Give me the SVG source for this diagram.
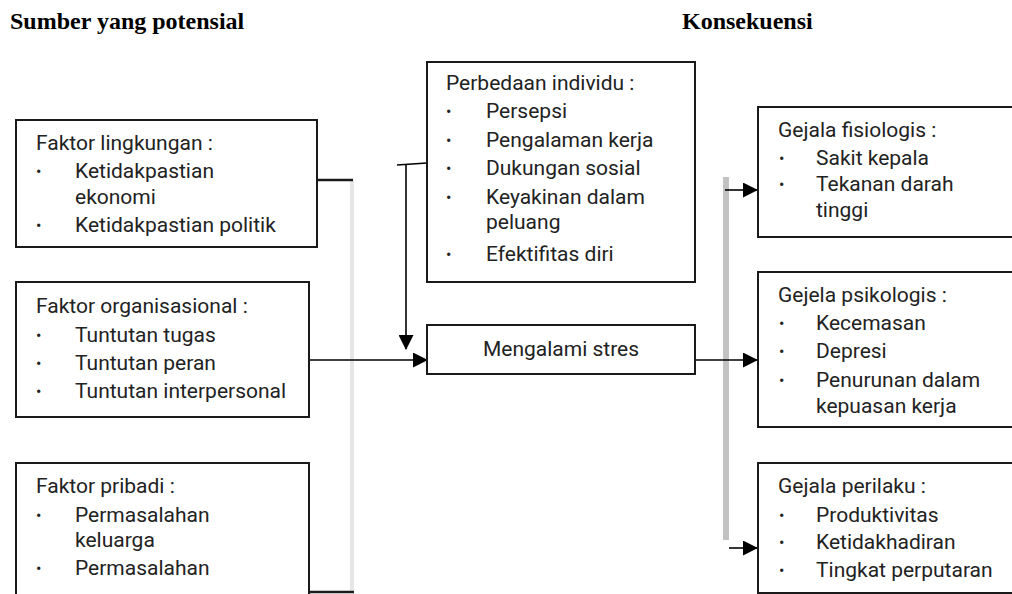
<svg xmlns="http://www.w3.org/2000/svg" width="1012" height="594" viewBox="0 0 1012 594">
<defs>
<style>
.box{fill:#fff;stroke:#1a1a1a;stroke-width:2}
.t{font-family:Roboto,"Liberation Sans",sans-serif;font-size:21px;fill:#222}
.b{font-family:Roboto,"Liberation Sans",sans-serif;font-size:16px;fill:#222}
.h{font-family:"Liberation Serif","Times New Roman",serif;font-size:24px;font-weight:bold;fill:#000}
.c{fill:none;stroke:#000;stroke-width:1.6}
.ck{fill:none;stroke:#1a1a1a;stroke-width:2.4}
</style>
<marker id="ah2" viewBox="0 0 16 16" markerWidth="15" markerHeight="15" refX="15" refY="8" orient="auto" markerUnits="userSpaceOnUse">
<path d="M0,0 L16,8 L0,16 Z" fill="#000"/>
</marker>
</defs>
<rect width="1012" height="594" fill="#fff"/>
<text class="h" x="10" y="29">Sumber yang potensial</text>
<text class="h" x="682" y="29">Konsekuensi</text>

<g id="connectors">
<line x1="352" y1="180" x2="352" y2="592" stroke="#e6e6e6" stroke-width="4"/>
<line x1="726" y1="177" x2="726" y2="540" stroke="#c2c2c2" stroke-width="6"/>
<line class="ck" x1="317" y1="180" x2="353" y2="180"/>
<line class="ck" x1="309" y1="592" x2="354" y2="592"/>
<line class="c" x1="309" y1="360" x2="427" y2="360" marker-end="url(#ah2)"/>
<line class="c" x1="427" y1="163" x2="397" y2="165"/>
<line class="c" x1="406" y1="164" x2="406" y2="349" marker-end="url(#ah2)"/>
<line class="c" x1="695" y1="360" x2="757" y2="360" marker-end="url(#ah2)"/>
<line class="c" x1="725" y1="190" x2="757" y2="190" marker-end="url(#ah2)"/>
<line class="c" x1="729" y1="548" x2="757" y2="548" marker-end="url(#ah2)"/>
</g>

<g id="faktor-lingkungan">
<rect class="box" x="16" y="120" width="301" height="127"/>
<text class="t" x="36" y="150">Faktor lingkungan :</text>
<text class="b" x="36" y="177">•</text><text class="t" x="75" y="178">Ketidakpastian</text>
<text class="t" x="75" y="204">ekonomi</text>
<text class="b" x="36" y="231">•</text><text class="t" x="75" y="232">Ketidakpastian politik</text>
</g>

<g id="faktor-organisasional">
<rect class="box" x="16" y="282" width="293" height="135"/>
<text class="t" x="36" y="313">Faktor organisasional :</text>
<text class="b" x="36" y="341">•</text><text class="t" x="75" y="342">Tuntutan tugas</text>
<text class="b" x="36" y="369">•</text><text class="t" x="75" y="370">Tuntutan peran</text>
<text class="b" x="36" y="397">•</text><text class="t" x="75" y="398">Tuntutan interpersonal</text>
</g>

<g id="faktor-pribadi">
<rect class="box" x="16" y="463" width="293" height="140"/>
<text class="t" x="36" y="493">Faktor pribadi :</text>
<text class="b" x="36" y="521">•</text><text class="t" x="75" y="522">Permasalahan</text>
<text class="t" x="75" y="547">keluarga</text>
<text class="b" x="36" y="574">•</text><text class="t" x="75" y="575">Permasalahan</text>
</g>

<g id="perbedaan-individu">
<rect class="box" x="427" y="62" width="268" height="220"/>
<text class="t" x="446" y="90">Perbedaan individu :</text>
<text class="b" x="446" y="117">•</text><text class="t" x="486" y="118">Persepsi</text>
<text class="b" x="446" y="146">•</text><text class="t" x="486" y="147">Pengalaman kerja</text>
<text class="b" x="446" y="174">•</text><text class="t" x="486" y="175">Dukungan sosial</text>
<text class="b" x="446" y="203">•</text><text class="t" x="486" y="204">Keyakinan dalam</text>
<text class="t" x="486" y="229">peluang</text>
<text class="b" x="446" y="260">•</text><text class="t" x="486" y="261">Efektifitas diri</text>
</g>

<g id="mengalami-stres">
<rect class="box" x="427" y="325" width="268" height="49"/>
<text class="t" x="561" y="356" text-anchor="middle">Mengalami stres</text>
</g>

<g id="gejala-fisiologis">
<rect class="box" x="758" y="107" width="270" height="130"/>
<text class="t" x="778" y="137">Gejala fisiologis :</text>
<text class="b" x="779" y="164">•</text><text class="t" x="816" y="165">Sakit kepala</text>
<text class="b" x="779" y="190">•</text><text class="t" x="816" y="191">Tekanan darah</text>
<text class="t" x="816" y="217">tinggi</text>
</g>

<g id="gejala-psikologis">
<rect class="box" x="758" y="272" width="270" height="155"/>
<text class="t" x="778" y="302">Gejela psikologis :</text>
<text class="b" x="779" y="329">•</text><text class="t" x="816" y="330">Kecemasan</text>
<text class="b" x="779" y="357">•</text><text class="t" x="816" y="358">Depresi</text>
<text class="b" x="779" y="386">•</text><text class="t" x="816" y="387">Penurunan dalam</text>
<text class="t" x="816" y="413">kepuasan kerja</text>
</g>

<g id="gejala-perilaku">
<rect class="box" x="758" y="463" width="270" height="130"/>
<text class="t" x="778" y="493">Gejala perilaku :</text>
<text class="b" x="779" y="521">•</text><text class="t" x="816" y="522">Produktivitas</text>
<text class="b" x="779" y="548">•</text><text class="t" x="816" y="549">Ketidakhadiran</text>
<text class="b" x="779" y="576">•</text><text class="t" x="816" y="577">Tingkat perputaran</text>
</g>
</svg>
